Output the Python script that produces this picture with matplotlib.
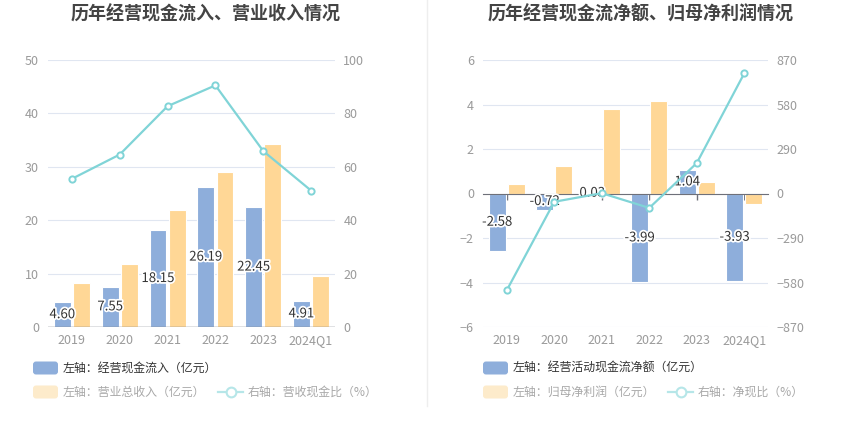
import matplotlib
matplotlib.use("Agg")
import matplotlib.pyplot as plt
from matplotlib.patches import FancyBboxPatch
from matplotlib.lines import Line2D
from matplotlib.transforms import IdentityTransform
import matplotlib.patheffects as pe
import numpy as np

plt.rcParams['font.family'] = ['Noto Sans CJK SC', 'DejaVu Sans']

categories = ['2019', '2020', '2021', '2022', '2023', '2024Q1']
# left chart
cash_inflow = [4.60, 7.55, 18.15, 26.19, 22.45, 4.91]
revenue = [8.3, 11.75, 22.0, 29.0, 34.2, 9.6]
cash_ratio = [55.5, 64.6, 82.7, 90.5, 65.9, 51.1]
# right chart
net_cash = [-2.58, -0.72, 0.03, -3.99, 1.04, -3.93]
net_profit = [0.42, 1.24, 3.81, 4.14, 0.52, -0.49]
net_ratio = [-631, -54, 2, -94, 198, 783]

left_ticks = [0, 10, 20, 30, 40, 50]
left_ticks_r = [0, 20, 40, 60, 80, 100]
right_ticks = [-6, -4, -2, 0, 2, 4, 6]
right_ticks_r = [-870, -580, -290, 0, 290, 580, 870]

BLUE = '#8EAEDB'
ORANGE = '#FFD796'
CYAN = '#80D4D7'
GRID = '#E0E6F1'
TICK = '#9A9A9A'
AXIS = '#6E7079'

W, H = 850, 437
fig = plt.figure(figsize=(W / 100, H / 100), dpi=100)


def fx(x):
    return x / W


def fy(y):
    return 1 - y / H


def make_axes(x0, x1, y0, y1):
    return fig.add_axes([fx(x0), fy(y1), fx(x1 - x0), (y1 - y0) / H])


def style(ax, ax2, ylim, yt, ylim2, yt2):
    ax.set_ylim(*ylim)
    ax.set_yticks(yt)
    ax2.set_ylim(*ylim2)
    ax2.set_yticks(yt2)
    ax.set_xlim(-0.5, len(categories) - 0.5)
    for a in (ax, ax2):
        for s in a.spines.values():
            s.set_visible(False)
    ax.tick_params(axis='y', length=0, pad=6.5, labelcolor=TICK, labelsize=9)
    ax2.tick_params(axis='y', length=0, pad=6, labelcolor=TICK, labelsize=9)
    ax.set_axisbelow(True)
    ax.grid(axis='y', color=GRID, linewidth=0.8)
    ax.grid(axis='x', visible=False)


x = np.arange(len(categories))
bw = 0.35
off = 0.2

label_fx = [pe.withStroke(linewidth=2.5, foreground='white')]

# ---------- left chart ----------
axL = make_axes(48, 335, 60, 327)
axL2 = axL.twinx()
style(axL, axL2, (0, 50), left_ticks, (0, 100), left_ticks_r)
axL.bar(x - off, cash_inflow, bw, color=BLUE, edgecolor='white', linewidth=0.8, zorder=2)
axL.bar(x + off, revenue, bw, color=ORANGE, edgecolor='white', linewidth=0.8, zorder=2)
for xi, v in zip(x, cash_inflow):
    axL.text(xi - off, v / 2, f'{v:.2f}', ha='center', va='center', fontsize=9.5,
             color='#333333', path_effects=label_fx, zorder=5)
axL.axhline(0, color=AXIS, linewidth=1, zorder=3)
axL.set_xticks(x)
axL.set_xticklabels(categories)
axL.tick_params(axis='x', length=0, pad=5, labelcolor=TICK, labelsize=9)
axL2.plot(x, cash_ratio, color=CYAN, linewidth=1.6, marker='o', markersize=4.5,
          markerfacecolor='white', markeredgewidth=1.4, zorder=4)

# ---------- right chart ----------
axR = make_axes(483, 768, 60, 327)
axR2 = axR.twinx()
style(axR, axR2, (-6, 6), right_ticks, (-870, 870), right_ticks_r)
axR.bar(x - off, net_cash, bw, color=BLUE, edgecolor='white', linewidth=0.8, zorder=2)
axR.bar(x + off, net_profit, bw, color=ORANGE, edgecolor='white', linewidth=0.8, zorder=2)
axR.spines['bottom'].set_visible(True)
axR.spines['bottom'].set_position(('data', 0))
axR.spines['bottom'].set_color(AXIS)
axR.spines['bottom'].set_zorder(3)
axR.set_xticks(x)
axR.tick_params(axis='x', length=4, width=1, color=AXIS, labelbottom=False, direction='out')
secx = axR.secondary_xaxis(0.0)
secx.set_xticks(x)
secx.set_xticklabels(categories)
secx.tick_params(axis='x', length=0, pad=5, labelcolor=TICK, labelsize=9)
secx.spines['bottom'].set_visible(False)
for xi, v in zip(x, net_cash):
    axR.text(xi - off, v / 2, f'{v:.2f}', ha='center', va='center', fontsize=9.5,
             color='#333333', path_effects=label_fx, zorder=5)
axR2.plot(x, net_ratio, color=CYAN, linewidth=1.6, marker='o', markersize=4.5,
          markerfacecolor='white', markeredgewidth=1.4, zorder=4)

# ---------- titles ----------
fig.text(fx(206), fy(14), '历年经营现金流入、营业收入情况', ha='center', va='center',
         fontsize=13, fontweight='bold', color='#444444')
fig.text(fx(641), fy(14), '历年经营现金流净额、归母净利润情况', ha='center', va='center',
         fontsize=13, fontweight='bold', color='#444444')

# divider
fig.add_artist(Line2D([fx(427), fx(427)], [fy(0), fy(406)], color='#EEEEEE',
                      linewidth=1, transform=fig.transFigure))


# ---------- legends ----------
def patch(x0, yc, color):
    fig.add_artist(FancyBboxPatch((x0, H - yc - 6.5), 25, 13,
                                  boxstyle='round,pad=0,rounding_size=3',
                                  facecolor=color, edgecolor='none',
                                  transform=IdentityTransform()))


def line_icon(x0, yc, color):
    fig.add_artist(Line2D([x0, x0 + 25], [H - yc, H - yc], color=color, linewidth=1.6,
                          transform=IdentityTransform()))
    fig.add_artist(Line2D([x0 + 12.5], [H - yc], color=color, marker='o', markersize=7,
                          markerfacecolor='white', markeredgewidth=1.5,
                          transform=IdentityTransform()))


def ltext(x0, yc, s, color):
    fig.text(fx(x0), fy(yc), s, ha='left', va='center', fontsize=8.6, color=color)


legends = [
    (33, 63, 218, 248, '左轴：经营现金流入（亿元）', '左轴：营业总收入（亿元）', '右轴：营收现金比（%）'),
    (483, 513, 668, 698, '左轴：经营活动现金流净额（亿元）', '左轴：归母净利润（亿元）', '右轴：净现比（%）'),
]
for px0, tx0, lx0, ltx0, s1, s2, s3 in legends:
    patch(px0, 368, BLUE)
    ltext(tx0, 368, s1, '#333333')
    patch(px0, 392, '#FDEBCB')
    ltext(tx0, 392, s2, '#A8A8A8')
    line_icon(lx0, 392, '#B6E6E8')
    ltext(ltx0, 392, s3, '#A8A8A8')

fig.savefig('out.png', dpi=100)
